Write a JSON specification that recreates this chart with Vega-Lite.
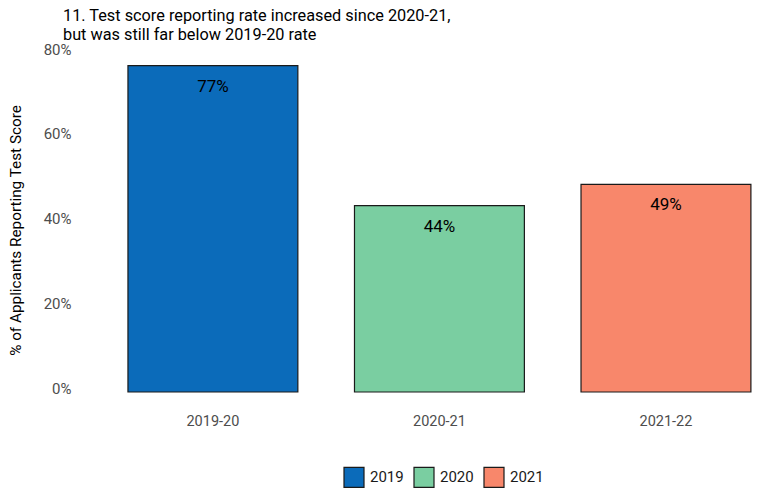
{
  "$schema": "https://vega.github.io/schema/vega-lite/v6.json",
  "autosize": "none",
  "width": 690,
  "height": 339,
  "padding": {"left": 77, "top": 53, "right": 0, "bottom": 106},
  "background": "white",
  "title": {
    "text": ["11. Test score reporting rate increased since 2020-21,", "but was still far below 2019-20 rate"],
    "anchor": "start",
    "frame": "group",
    "dx": -14,
    "offset": -1,
    "font": "Roboto",
    "fontSize": 16.3,
    "fontWeight": "normal",
    "color": "#000000",
    "lineHeight": 19
  },
  "config": {
    "view": {"stroke": null},
    "font": "Roboto"
  },
  "data": {
    "values": [
      {"year": "2019-20", "cohort": "2019", "rate": 0.77, "label": "77%"},
      {"year": "2020-21", "cohort": "2020", "rate": 0.44, "label": "44%"},
      {"year": "2021-22", "cohort": "2021", "rate": 0.49, "label": "49%"}
    ]
  },
  "encoding": {
    "x": {
      "field": "year",
      "type": "nominal",
      "scale": {"paddingInner": 0.25, "paddingOuter": 0.148, "align": 0.76},
      "axis": {
        "title": null,
        "labelAngle": 0,
        "labelFont": "Roboto",
        "labelFontSize": 14.5,
        "labelColor": "#4d4d4d",
        "labelPadding": 22,
        "ticks": false,
        "domain": false,
        "grid": false
      }
    },
    "y": {
      "field": "rate",
      "type": "quantitative",
      "scale": {"domain": [0, 0.8], "nice": false, "zero": true},
      "axis": {
        "title": "% of Applicants Reporting Test Score",
        "titleFont": "Roboto",
        "titleFontSize": 15.3,
        "titleFontWeight": "normal",
        "titleColor": "#000000",
        "titlePadding": 20,
        "titleY": 177,
        "format": ".0%",
        "values": [0, 0.2, 0.4, 0.6, 0.8],
        "labelFont": "Roboto",
        "labelFontSize": 15,
        "labelColor": "#4d4d4d",
        "labelPadding": 6,
        "labelOffset": -4,
        "ticks": false,
        "domain": false,
        "grid": false
      }
    }
  },
  "layer": [
    {
      "mark": {"type": "bar", "stroke": "#1a1a1a", "strokeWidth": 1.2},
      "encoding": {
        "color": {
          "field": "cohort",
          "type": "nominal",
          "scale": {"domain": ["2019", "2020", "2021"], "range": ["#0B6BBA", "#7ACEA1", "#F8876B"]},
          "legend": {
            "title": null,
            "orient": "none",
            "direction": "horizontal",
            "legendX": 266,
            "legendY": 413,
            "symbolType": "square",
            "symbolSize": 400,
            "symbolStrokeColor": "#1a1a1a",
            "symbolStrokeWidth": 1.2,
            "symbolOpacity": 1,
            "labelFont": "Roboto",
            "labelFontSize": 15,
            "labelColor": "#1a1a1a",
            "labelOffset": 5,
            "columnPadding": 7
          }
        }
      }
    },
    {
      "mark": {"type": "text", "baseline": "middle", "dy": 21, "fontSize": 17, "font": "Roboto", "color": "#000000"},
      "encoding": {"text": {"field": "label"}}
    }
  ]
}
